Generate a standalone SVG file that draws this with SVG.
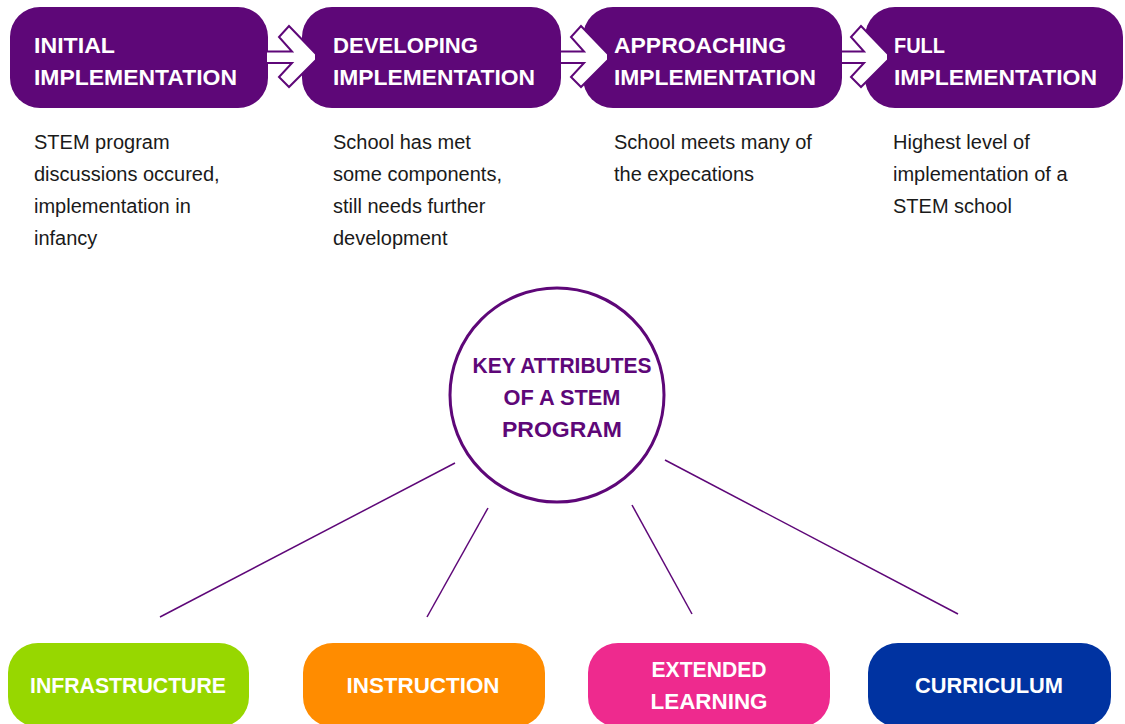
<svg xmlns="http://www.w3.org/2000/svg" width="1125" height="724" viewBox="0 0 1125 724">
<style>
.stage{fill:#5E0778}
.arrow{fill:#fff;stroke:#5E0778;stroke-width:2;stroke-linejoin:miter}
.ht{font-family:"Liberation Sans",Arial,sans-serif;font-weight:bold;font-size:22px;fill:#fff}
.desc{font-family:"Liberation Sans",Arial,sans-serif;font-size:20px;fill:#1a1a1a}
.kt{font-family:"Liberation Sans",Arial,sans-serif;font-weight:bold;font-size:22px;fill:#5E0778;text-anchor:middle}
.bt{font-family:"Liberation Sans",Arial,sans-serif;font-weight:bold;font-size:22px;fill:#fff;text-anchor:middle}
.conn{stroke:#5E0778;stroke-width:1.5;fill:none}
</style>
<rect width="1125" height="724" fill="#fff"/>
<g id="stage-initial">
<rect class="stage" x="10" y="7" width="258" height="101" rx="30"/>
<text class="ht" x="34" y="53" textLength="81" lengthAdjust="spacingAndGlyphs">INITIAL</text>
<text class="ht" x="34" y="85" textLength="203" lengthAdjust="spacingAndGlyphs">IMPLEMENTATION</text>
<text class="desc" x="34" y="149">STEM program</text>
<text class="desc" x="34" y="181">discussions occured,</text>
<text class="desc" x="34" y="213">implementation in</text>
<text class="desc" x="34" y="245">infancy</text>
</g>
<g id="stage-developing">
<rect class="stage" x="302" y="7" width="259" height="101" rx="30"/>
<text class="ht" x="333" y="53" textLength="145" lengthAdjust="spacingAndGlyphs">DEVELOPING</text>
<text class="ht" x="333" y="85" textLength="202" lengthAdjust="spacingAndGlyphs">IMPLEMENTATION</text>
<text class="desc" x="333" y="149">School has met</text>
<text class="desc" x="333" y="181">some components,</text>
<text class="desc" x="333" y="213">still needs further</text>
<text class="desc" x="333" y="245">development</text>
</g>
<g id="stage-approaching">
<rect class="stage" x="583" y="7" width="259" height="101" rx="30"/>
<text class="ht" x="614" y="53" textLength="172" lengthAdjust="spacingAndGlyphs">APPROACHING</text>
<text class="ht" x="614" y="85" textLength="202" lengthAdjust="spacingAndGlyphs">IMPLEMENTATION</text>
<text class="desc" x="614" y="149">School meets many of</text>
<text class="desc" x="614" y="181">the expecations</text>
</g>
<g id="stage-full">
<rect class="stage" x="865" y="7" width="258" height="101" rx="30"/>
<text class="ht" x="894" y="53" textLength="51" lengthAdjust="spacingAndGlyphs">FULL</text>
<text class="ht" x="894" y="85" textLength="203" lengthAdjust="spacingAndGlyphs">IMPLEMENTATION</text>
<text class="desc" x="893" y="149">Highest level of</text>
<text class="desc" x="893" y="181">implementation of a</text>
<text class="desc" x="893" y="213">STEM school</text>
</g>
<g id="arrows">
<polygon class="arrow" points="266,51.5 292,51.5 279,37 289,26 316,54 316,60 289,87 279,77 292,63 266,63"/>
<polygon class="arrow" points="560,51.5 584,51.5 571,37 581,26 608,54 608,60 581,87 571,77 584,63 560,63"/>
<polygon class="arrow" points="841,51.5 864,51.5 851,37 861,26 888,54 888,60 861,87 851,77 864,63 841,63"/>
</g>
<g id="key-attributes">
<circle cx="557" cy="395" r="107" fill="#fff" stroke="#5E0778" stroke-width="3"/>
<text class="kt" x="562" y="373" textLength="179" lengthAdjust="spacingAndGlyphs">KEY ATTRIBUTES</text>
<text class="kt" x="562" y="405" textLength="117" lengthAdjust="spacingAndGlyphs">OF A STEM</text>
<text class="kt" x="562" y="437" textLength="120" lengthAdjust="spacingAndGlyphs">PROGRAM</text>
</g>
<g id="connectors">
<line class="conn" x1="455" y1="463" x2="160" y2="617"/>
<line class="conn" x1="488" y1="508" x2="427" y2="617"/>
<line class="conn" x1="632" y1="505" x2="692" y2="614"/>
<line class="conn" x1="665" y1="460" x2="958" y2="614"/>
</g>
<g id="infrastructure">
<rect x="8" y="643" width="241" height="84" rx="30" fill="#97D700"/>
<text class="bt" x="128" y="693" textLength="196" lengthAdjust="spacingAndGlyphs">INFRASTRUCTURE</text>
</g>
<g id="instruction">
<rect x="303" y="643" width="242" height="84" rx="30" fill="#FF8C00"/>
<text class="bt" x="423" y="693" textLength="153" lengthAdjust="spacingAndGlyphs">INSTRUCTION</text>
</g>
<g id="extended-learning">
<rect x="588" y="643" width="242" height="84" rx="30" fill="#EE2A8E"/>
<text class="bt" x="709" y="677" textLength="115" lengthAdjust="spacingAndGlyphs">EXTENDED</text>
<text class="bt" x="709" y="709" textLength="117" lengthAdjust="spacingAndGlyphs">LEARNING</text>
</g>
<g id="curriculum">
<rect x="868" y="643" width="243" height="84" rx="30" fill="#0033A1"/>
<text class="bt" x="989" y="693" textLength="148" lengthAdjust="spacingAndGlyphs">CURRICULUM</text>
</g>
</svg>
